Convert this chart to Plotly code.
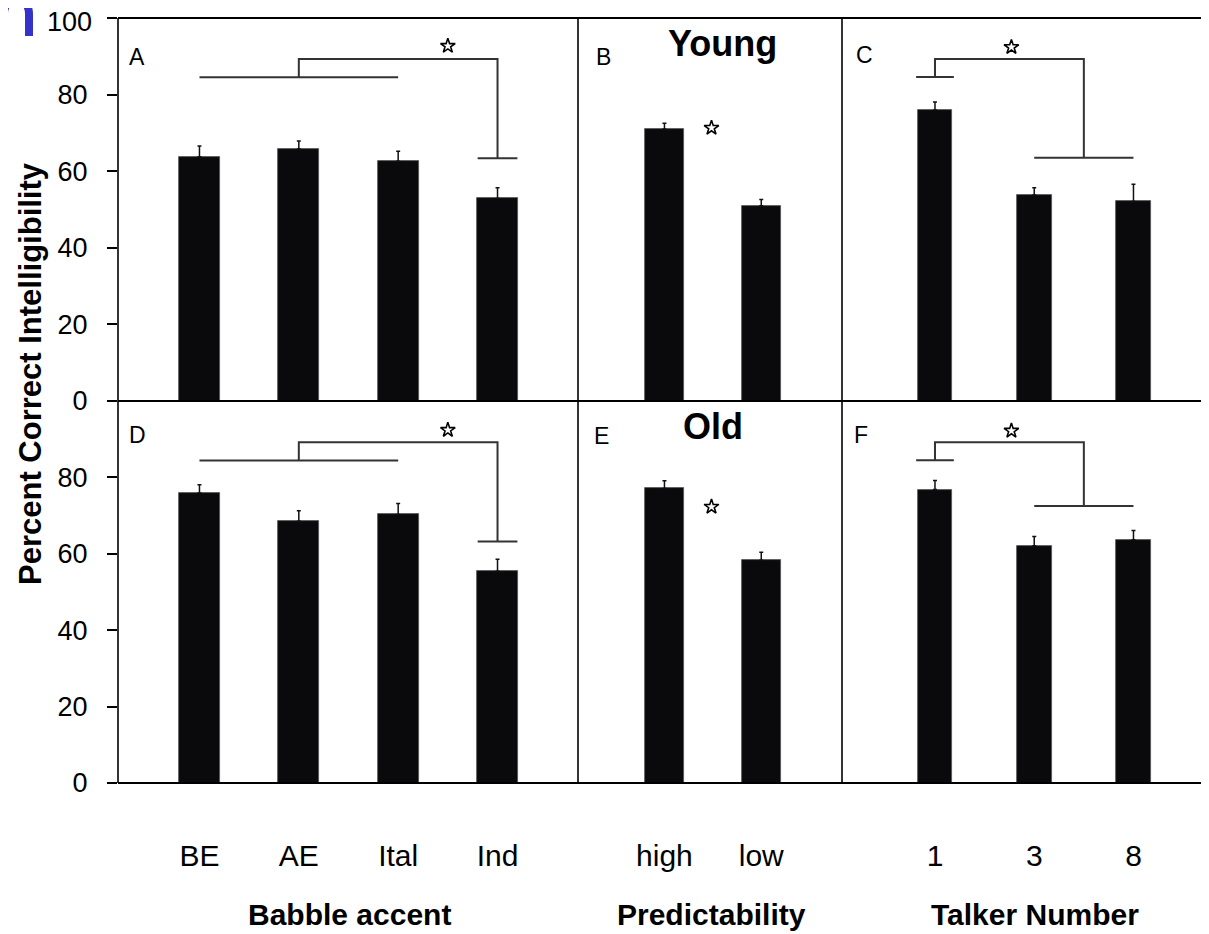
import plotly.graph_objects as go

# ---------------- data ----------------
accent = ["BE", "AE", "Ital", "Ind"]
young_accent = [63.8, 65.8, 62.6, 52.9]
young_accent_err = [2.8, 2.1, 2.6, 2.8]
old_accent = [75.9, 68.5, 70.3, 55.4]
old_accent_err = [2.2, 2.8, 2.9, 3.2]

predictability = ["high", "low"]
young_pred = [71.0, 51.0]
young_pred_err = [1.5, 1.6]
old_pred = [77.1, 58.3]
old_pred_err = [2.0, 2.1]

talkers = ["1", "3", "8"]
young_talk = [76.0, 53.8, 52.1]
young_talk_err = [2.1, 1.9, 4.5]
old_talk = [76.8, 62.1, 63.7]
old_talk_err = [2.4, 2.4, 2.4]

y_ticks = [0, 20, 40, 60, 80, 100]

# significance brackets (levels in percent): group line, top, foot, star
accent_young_levels = [84.5, 89.3, 63.4, 92.7]
accent_old_levels = [84.4, 89.2, 63.2, 92.4]
talk_young_levels = [84.6, 89.3, 63.5, 92.4]
talk_old_levels = [84.5, 89.2, 72.5, 92.2]
pred_star_young = 71.3
pred_star_old = 72.3

panel_letters = ["A", "B", "C", "D", "E", "F"]

# ---------------- layout geometry ----------------
# the page body has an 8px default margin; work in reference pixels and shift
OFF = 8
W, H = 1209 - OFF, 934 - OFF
L, R, T = 118 - OFF, 0, 18 - OFF
B = H - (783 - OFF)
PW, PH = W - L - R, H - T - B


def px(x):
    return (x - OFF - L) / PW


def py(y):
    return (H - B - (y - OFF)) / PH


xA = [0, px(578)]
xB = [px(578), px(842)]
xC = [px(842), 1]
yTop = [py(401), 1]
yBot = [0, py(401)]

fig = go.Figure()

BAR = "#0a0a0c"
LINE = "#333333"


def bars(cats, vals, errs, xa, ya, width):
    fig.add_trace(go.Bar(
        x=list(range(len(cats))), y=vals, width=width,
        marker=dict(color=BAR, line=dict(color="#555", width=0.8)),
        error_y=dict(type="data", array=errs, arrayminus=[0] * len(errs),
                     symmetric=False, color="#111", thickness=1.5, width=2),
        xaxis=xa, yaxis=ya, showlegend=False, hoverinfo="skip"))


def line(xs, ys, xa, ya):
    fig.add_trace(go.Scatter(x=xs, y=ys, mode="lines",
                             line=dict(color=LINE, width=2),
                             xaxis=xa, yaxis=ya, showlegend=False,
                             hoverinfo="skip"))


def star(x, y, xa, ya):
    fig.add_trace(go.Scatter(x=[x], y=[y], mode="markers",
                             marker=dict(symbol="star-open", size=11,
                                         color="black",
                                         line=dict(color="black", width=1.6)),
                             xaxis=xa, yaxis=ya, showlegend=False,
                             hoverinfo="skip"))


# Panel A (young, accent)
bars(accent, young_accent, young_accent_err, "x", "y", 0.41)
g, t, f, s = accent_young_levels
line([0, 2, None, 1, 1, 3, 3, None, 2.8, 3.2],
     [g, g, None, g, t, t, f, None, f, f], "x", "y")
star(2.5, s, "x", "y")

# Panel B (young, predictability)
bars(predictability, young_pred, young_pred_err, "x2", "y2", 0.40)
star(0.486, pred_star_young, "x2", "y2")

# Panel C (young, talkers)
bars(talkers, young_talk, young_talk_err, "x3", "y3", 0.35)
g, t, f, s = talk_young_levels
line([-0.19, 0.19, None, 0, 0, 1.5, 1.5, None, 1, 2],
     [g, g, None, g, t, t, f, None, f, f], "x3", "y3")
star(0.77, s, "x3", "y3")

# Panel D (old, accent)
bars(accent, old_accent, old_accent_err, "x4", "y4", 0.41)
g, t, f, s = accent_old_levels
line([0, 2, None, 1, 1, 3, 3, None, 2.8, 3.2],
     [g, g, None, g, t, t, f, None, f, f], "x4", "y4")
star(2.5, s, "x4", "y4")

# Panel E (old, predictability)
bars(predictability, old_pred, old_pred_err, "x5", "y5", 0.40)
star(0.486, pred_star_old, "x5", "y5")

# Panel F (old, talkers)
bars(talkers, old_talk, old_talk_err, "x6", "y6", 0.35)
g, t, f, s = talk_old_levels
line([-0.19, 0.19, None, 0, 0, 1.5, 1.5, None, 1, 2],
     [g, g, None, g, t, t, f, None, f, f], "x6", "y6")
star(0.77, s, "x6", "y6")

FONT = "Liberation Sans, Arial, sans-serif"

xr_accent = [-0.82, 3.81]
xr_pred = [-0.893, 1.834]
xr_talk = [-0.937, 2.761]

common_x = dict(showgrid=False, zeroline=False, showline=False, ticks="",
                fixedrange=True, automargin=False)
common_y = dict(showgrid=False, zeroline=False, showline=False,
                range=[0, 100], fixedrange=True, automargin=False)

ytick_font = dict(family=FONT, size=27, color="black")
xtick_font = dict(family=FONT, size=30, color="black")
XSTAND = 52
YSTAND = 14

# top tick label "100" sits right at the page edge; it is drawn as an
# annotation a few pixels lower (as in the reference) so it is not cut off
top_ticktext = [str(v) for v in y_ticks[:-1]] + [""]

fig.update_layout(
    width=W, height=H,
    margin=dict(l=L, r=R, t=T, b=B, pad=0, autoexpand=False),
    paper_bgcolor="white", plot_bgcolor="white",
    bargap=0,
    xaxis=dict(domain=xA, anchor="y", range=xr_accent, showticklabels=False, **common_x),
    xaxis2=dict(domain=xB, anchor="y2", range=xr_pred, showticklabels=False, **common_x),
    xaxis3=dict(domain=xC, anchor="y3", range=xr_talk, showticklabels=False, **common_x),
    xaxis4=dict(domain=xA, anchor="y4", range=xr_accent, tickmode="array",
                tickvals=list(range(len(accent))), ticktext=accent,
                tickfont=xtick_font, ticklabelstandoff=XSTAND, **common_x),
    xaxis5=dict(domain=xB, anchor="y5", range=xr_pred, tickmode="array",
                tickvals=list(range(len(predictability))), ticktext=predictability,
                tickfont=xtick_font, ticklabelstandoff=XSTAND, **common_x),
    xaxis6=dict(domain=xC, anchor="y6", range=xr_talk, tickmode="array",
                tickvals=list(range(len(talkers))), ticktext=talkers,
                tickfont=xtick_font, ticklabelstandoff=XSTAND, **common_x),
    yaxis=dict(domain=yTop, anchor="x", tickmode="array",
               tickvals=y_ticks, ticktext=top_ticktext, ticks="outside", ticklen=10,
               tickwidth=1.5, tickcolor="black", tickfont=ytick_font,
               ticklabelstandoff=YSTAND, ticklabeloverflow="allow", **common_y),
    yaxis2=dict(domain=yTop, anchor="x2", showticklabels=False, **common_y),
    yaxis3=dict(domain=yTop, anchor="x3", showticklabels=False, **common_y),
    yaxis4=dict(domain=yBot, anchor="x4", tickmode="array",
                tickvals=y_ticks[:-1], ticks="outside", ticklen=10,
                tickwidth=1.5, tickcolor="black", tickfont=ytick_font,
                ticklabelstandoff=YSTAND, ticklabeloverflow="allow", **common_y),
    yaxis5=dict(domain=yBot, anchor="x5", showticklabels=False, **common_y),
    yaxis6=dict(domain=yBot, anchor="x6", showticklabels=False, **common_y),
)

# frame lines
shapes = []
for yy, w in [(1, 2), (py(401), 2.2), (0, 1.8)]:
    shapes.append(dict(type="line", xref="paper", yref="paper", x0=0, x1=1,
                       y0=yy, y1=yy, line=dict(color="black", width=w)))
for xx in [0, px(578), px(842)]:
    shapes.append(dict(type="line", xref="paper", yref="paper", x0=xx, x1=xx,
                       y0=0, y1=1, line=dict(color="black", width=1.6)))
# cropped blue glyph at the top-left corner
shapes.append(dict(type="path", xref="paper", yref="paper",
                   path=(f"M {px(4)},{py(36)} L {px(4)},{py(14)} "
                         f"C {px(4)},{py(-6)} {px(29)},{py(-6)} {px(29)},{py(14)} "
                         f"L {px(29)},{py(36)}"),
                   line=dict(color="#3434c8", width=8)))
fig.update_layout(shapes=shapes)

ann = []
ann.append(dict(text=str(y_ticks[-1]), x=px(94), y=py(22), xref="paper", yref="paper",
                showarrow=False, xanchor="right", yanchor="middle",
                font=ytick_font))
letter_pos = [(137, 57), (603, 57), (864, 55), (137, 435), (601, 436), (861, 435)]
for lab, (lx, ly) in zip(panel_letters, letter_pos):
    ann.append(dict(text=lab, x=px(lx), y=py(ly), xref="paper", yref="paper",
                    showarrow=False, xanchor="center", yanchor="middle",
                    font=dict(family=FONT, size=23, color="black")))
ann.append(dict(text="<b>Young</b>", x=px(722), y=py(44), xref="paper", yref="paper",
                showarrow=False, xanchor="center", yanchor="middle",
                font=dict(family=FONT, size=36, color="black")))
ann.append(dict(text="<b>Old</b>", x=px(713), y=py(426), xref="paper", yref="paper",
                showarrow=False, xanchor="center", yanchor="middle",
                font=dict(family=FONT, size=36, color="black")))
for txt, cx in [("Babble accent", 349), ("Predictability", 711), ("Talker Number", 1035)]:
    ann.append(dict(text=f"<b>{txt}</b>", x=px(cx), y=py(914), xref="paper",
                    yref="paper", showarrow=False, xanchor="center", yanchor="middle",
                    font=dict(family=FONT, size=30, color="black")))
ann.append(dict(text="<b>Percent Correct Intelligibility</b>", x=px(30), y=py(374),
                xref="paper", yref="paper", showarrow=False, textangle=-90,
                xanchor="center", yanchor="middle",
                font=dict(family=FONT, size=31, color="black")))
fig.update_layout(annotations=ann)

fig.write_html("out.html")
